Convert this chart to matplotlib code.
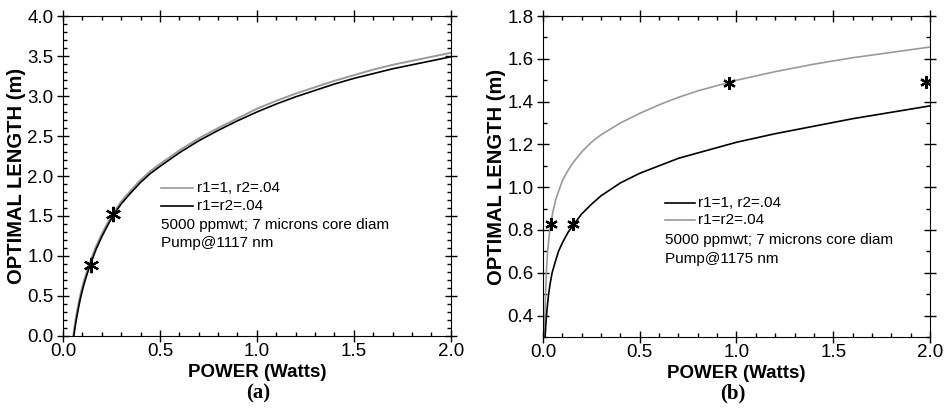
import numpy as np
from matplotlib import pyplot as plt
from matplotlib.ticker import MultipleLocator

plt.rcParams['font.family'] = ['Liberation Sans', 'DejaVu Sans']

# (a) pump @ 1117 nm
a_gray_x = [0.053, 0.057, 0.062, 0.067, 0.077, 0.087, 0.097, 0.107, 0.117, 0.132,
            0.147, 0.167, 0.197, 0.227, 0.257, 0.3, 0.35, 0.4, 0.45, 0.5, 0.6,
            0.7, 0.8, 0.9, 1.0, 1.1, 1.2, 1.3, 1.4, 1.5, 1.6, 1.7, 1.8, 1.9, 2.0]
a_gray_y = [0.0, 0.07, 0.16, 0.24, 0.37, 0.49, 0.59, 0.68, 0.76, 0.87,
            0.97, 1.10, 1.26, 1.40, 1.53, 1.68, 1.82, 1.95, 2.06, 2.15, 2.32,
            2.47, 2.60, 2.72, 2.84, 2.94, 3.03, 3.11, 3.19, 3.26, 3.33, 3.39, 3.44, 3.49, 3.54]
a_black_x = [0.056, 0.06, 0.065, 0.07, 0.08, 0.09, 0.1, 0.11, 0.12, 0.135,
             0.15, 0.17, 0.2, 0.23, 0.26, 0.3, 0.35, 0.4, 0.45, 0.5, 0.6,
             0.7, 0.8, 0.9, 1.0, 1.1, 1.2, 1.3, 1.4, 1.5, 1.6, 1.7, 1.8, 1.9, 2.0]
a_black_y = [0.0, 0.07, 0.15, 0.22, 0.35, 0.47, 0.57, 0.66, 0.74, 0.85,
             0.95, 1.08, 1.24, 1.38, 1.51, 1.65, 1.79, 1.92, 2.03, 2.12, 2.29,
             2.44, 2.57, 2.69, 2.80, 2.90, 2.99, 3.07, 3.15, 3.22, 3.28, 3.34, 3.39, 3.44, 3.49]
a_star_x = [0.145, 0.26]
a_star_y = [0.89, 1.52]

# (b) pump @ 1175 nm
b_black_x = [0.011, 0.014, 0.018, 0.023, 0.029, 0.037, 0.047, 0.063, 0.08, 0.1,
             0.13, 0.162, 0.2, 0.25, 0.3, 0.35, 0.4, 0.5, 0.6, 0.7, 0.8, 0.9,
             1.0, 1.2, 1.4, 1.6, 1.8, 2.0]
b_black_y = [0.30, 0.35, 0.40, 0.45, 0.50, 0.55, 0.60, 0.65, 0.70, 0.74,
             0.79, 0.83, 0.875, 0.92, 0.96, 0.99, 1.02, 1.065, 1.10, 1.135, 1.16, 1.185,
             1.21, 1.25, 1.285, 1.32, 1.35, 1.38]
b_gray_x = [0.007, 0.009, 0.012, 0.015, 0.019, 0.024, 0.03, 0.038, 0.05, 0.065,
            0.08, 0.1, 0.13, 0.16, 0.2, 0.25, 0.3, 0.4, 0.5, 0.6, 0.7, 0.8, 0.9,
            1.0, 1.2, 1.4, 1.6, 1.8, 2.0]
b_gray_y = [0.30, 0.38, 0.47, 0.55, 0.63, 0.70, 0.76, 0.82, 0.88, 0.94,
            0.98, 1.03, 1.08, 1.12, 1.165, 1.21, 1.245, 1.30, 1.345, 1.385, 1.42, 1.45, 1.475,
            1.50, 1.54, 1.575, 1.605, 1.63, 1.655]
b_star_x = [0.04, 0.155, 0.96, 1.98]
b_star_y = [0.83, 0.83, 1.485, 1.49]

GRAY = '#9a9a9a'
STAR = (6, 2, 0)


def style_axes(ax, ymajor, yminor):
    ax.xaxis.set_major_locator(MultipleLocator(0.5))
    ax.xaxis.set_minor_locator(MultipleLocator(0.1))
    ax.yaxis.set_major_locator(MultipleLocator(ymajor))
    ax.yaxis.set_minor_locator(MultipleLocator(yminor))
    ax.tick_params(which='both', top=True, right=True, labelsize=13.5)
    ax.tick_params(which='major', direction='inout', length=8, width=1)
    ax.tick_params(which='minor', direction='in', length=3, width=1)
    ax.tick_params(axis='x', which='major', pad=1)
    ax.tick_params(axis='y', which='major', pad=3)
    ax.xaxis.set_major_formatter(plt.FormatStrFormatter('%.1f'))
    ax.yaxis.set_major_formatter(plt.FormatStrFormatter('%.1f'))
    ax.set_xlabel('POWER (Watts)', fontsize=13.5, fontweight='bold', labelpad=3)
    ax.set_ylabel('OPTIMAL LENGTH (m)', fontsize=14.5, fontweight='bold', labelpad=1)


def legend_block(ax, x0, x1, xt, rows, lines, notes):
    for (color, label), y in zip(lines, rows[:2]):
        ax.plot([x0, x1], [y, y], color=color, lw=1.2, transform=ax.transAxes)
        ax.text(xt, y, label, transform=ax.transAxes, fontsize=11, va='center')
    for note, y in zip(notes, rows[2:]):
        ax.text(x0, y, note, transform=ax.transAxes, fontsize=11, va='center')


fig = plt.figure(figsize=(9.47, 4.15), dpi=100)

ax1 = fig.add_axes([0.0665, 0.1904, 0.4095, 0.771])
ax1.plot(a_gray_x, a_gray_y, color=GRAY, lw=1.4)
ax1.plot(a_black_x, a_black_y, color='black', lw=1.2)
ax1.plot(a_star_x, a_star_y, ls='none', marker=STAR, ms=11, mew=1.6, color='black')
ax1.set_xlim(0, 2.0)
ax1.set_ylim(0, 4.0)
style_axes(ax1, 0.5, 0.1)
legend_block(ax1, 0.254, 0.336, 0.345, [0.4625, 0.406, 0.347, 0.291],
             [(GRAY, 'r1=1, r2=.04'), ('black', 'r1=r2=.04')],
             ['5000 ppmwt; 7 microns core diam', 'Pump@1117 nm'])

ax2 = fig.add_axes([0.5734, 0.188, 0.4086, 0.7734])
ax2.plot(b_gray_x, b_gray_y, color=GRAY, lw=1.2)
ax2.plot(b_black_x, b_black_y, color='black', lw=1.2)
ax2.plot(b_star_x, b_star_y, ls='none', marker=STAR, ms=9, mew=1.6, color='black')
ax2.set_xlim(0, 2.0)
ax2.set_ylim(0.3, 1.8)
style_axes(ax2, 0.2, 0.1)
legend_block(ax2, 0.315, 0.393, 0.40, [0.418, 0.364, 0.302, 0.243],
             [('black', 'r1=1, r2=.04'), (GRAY, 'r1=r2=.04')],
             ['5000 ppmwt; 7 microns core diam', 'Pump@1175 nm'])

fig.text(258 / 947, 1 - 393 / 415, '(a)', ha='center', va='center', fontsize=15,
         fontweight='bold', family=['Liberation Serif', 'DejaVu Serif'])
fig.text(733 / 947, 1 - 393 / 415, '(b)', ha='center', va='center', fontsize=15,
         fontweight='bold', family=['Liberation Serif', 'DejaVu Serif'])

fig.savefig('out.png', dpi=100)
